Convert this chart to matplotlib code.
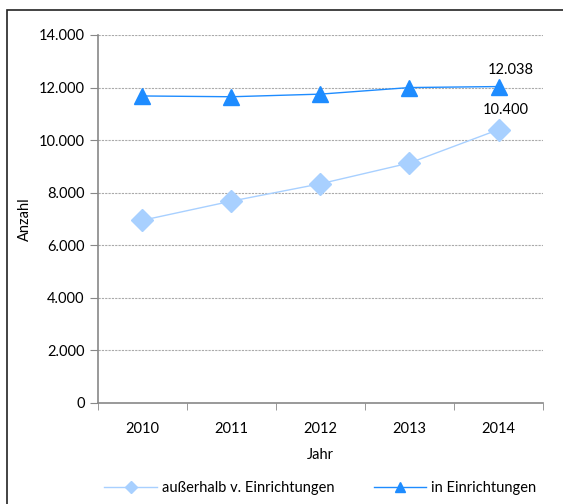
import matplotlib.pyplot as plt
import matplotlib.patches as mpatches
from matplotlib.ticker import FuncFormatter, FixedLocator

plt.rcParams['font.family'] = ['Lato', 'DejaVu Sans']

# data
years = ['2010', '2011', '2012', '2013', '2014']
ausserhalb = [6950, 7680, 8340, 9130, 10400]
in_einr = [11680, 11650, 11750, 12000, 12038]

c_light = '#a8d0ff'
c_dark = '#1e8cff'

fig = plt.figure(figsize=(5.63, 5.04), dpi=100)
ax = fig.add_axes([0.174, 0.2004, 0.7905, 0.7302])

# outer frame
fig.patches.append(mpatches.Rectangle((7/563, -0.1), 1.2, 1.1 - 10/504, transform=fig.transFigure,
                                      fill=False, edgecolor='#222222', linewidth=1.2))

x = [i + 0.5 for i in range(len(years))]
ax.plot(x, ausserhalb, color=c_light, linewidth=1, marker='D', markersize=11,
        label='außerhalb v. Einrichtungen')
ax.plot(x, in_einr, color=c_dark, linewidth=1, marker='^', markersize=12,
        label='in Einrichtungen')

ax.annotate('12.038', (x[-1], in_einr[-1]), xytext=(9, 7), textcoords='offset points',
            ha='center', va='bottom', fontsize=10.5)
ax.annotate('10.400', (x[-1], ausserhalb[-1]), xytext=(5, 9), textcoords='offset points',
            ha='center', va='bottom', fontsize=10.5)

ax.set_xlim(0, 5)
ax.set_ylim(0, 14000)
ax.set_yticks(range(0, 14001, 2000))
ax.yaxis.set_major_formatter(FuncFormatter(lambda v, p: f'{int(v):,}'.replace(',', '.')))
ax.set_xticks(x)
ax.set_xticklabels(years)
ax.xaxis.set_minor_locator(FixedLocator(range(6)))
ax.tick_params(axis='x', which='major', length=0, pad=14, labelsize=10.5)
ax.tick_params(axis='x', which='minor', length=5, color='#888888')
ax.tick_params(axis='y', length=6, color='#888888', labelsize=10.5)

ax.grid(axis='y', color='#aaaaaa', linestyle=(0, (2, 1)), linewidth=0.8)
ax.set_axisbelow(True)
for s in ['top', 'right']:
    ax.spines[s].set_visible(False)
for s in ['left', 'bottom']:
    ax.spines[s].set_color('#888888')
    ax.spines[s].set_linewidth(1.2)

ax.set_xlabel('Jahr', fontsize=10.5, labelpad=8)
ax.set_ylabel('Anzahl', fontsize=10.5, labelpad=5)

ax.legend(loc='center', bbox_to_anchor=(0.5, -0.231), ncol=2, frameon=False,
          fontsize=10.5, handlelength=3.6, handletextpad=0.35, columnspacing=2.7,
          markerscale=0.6)

fig.savefig('out.png', dpi=100)
